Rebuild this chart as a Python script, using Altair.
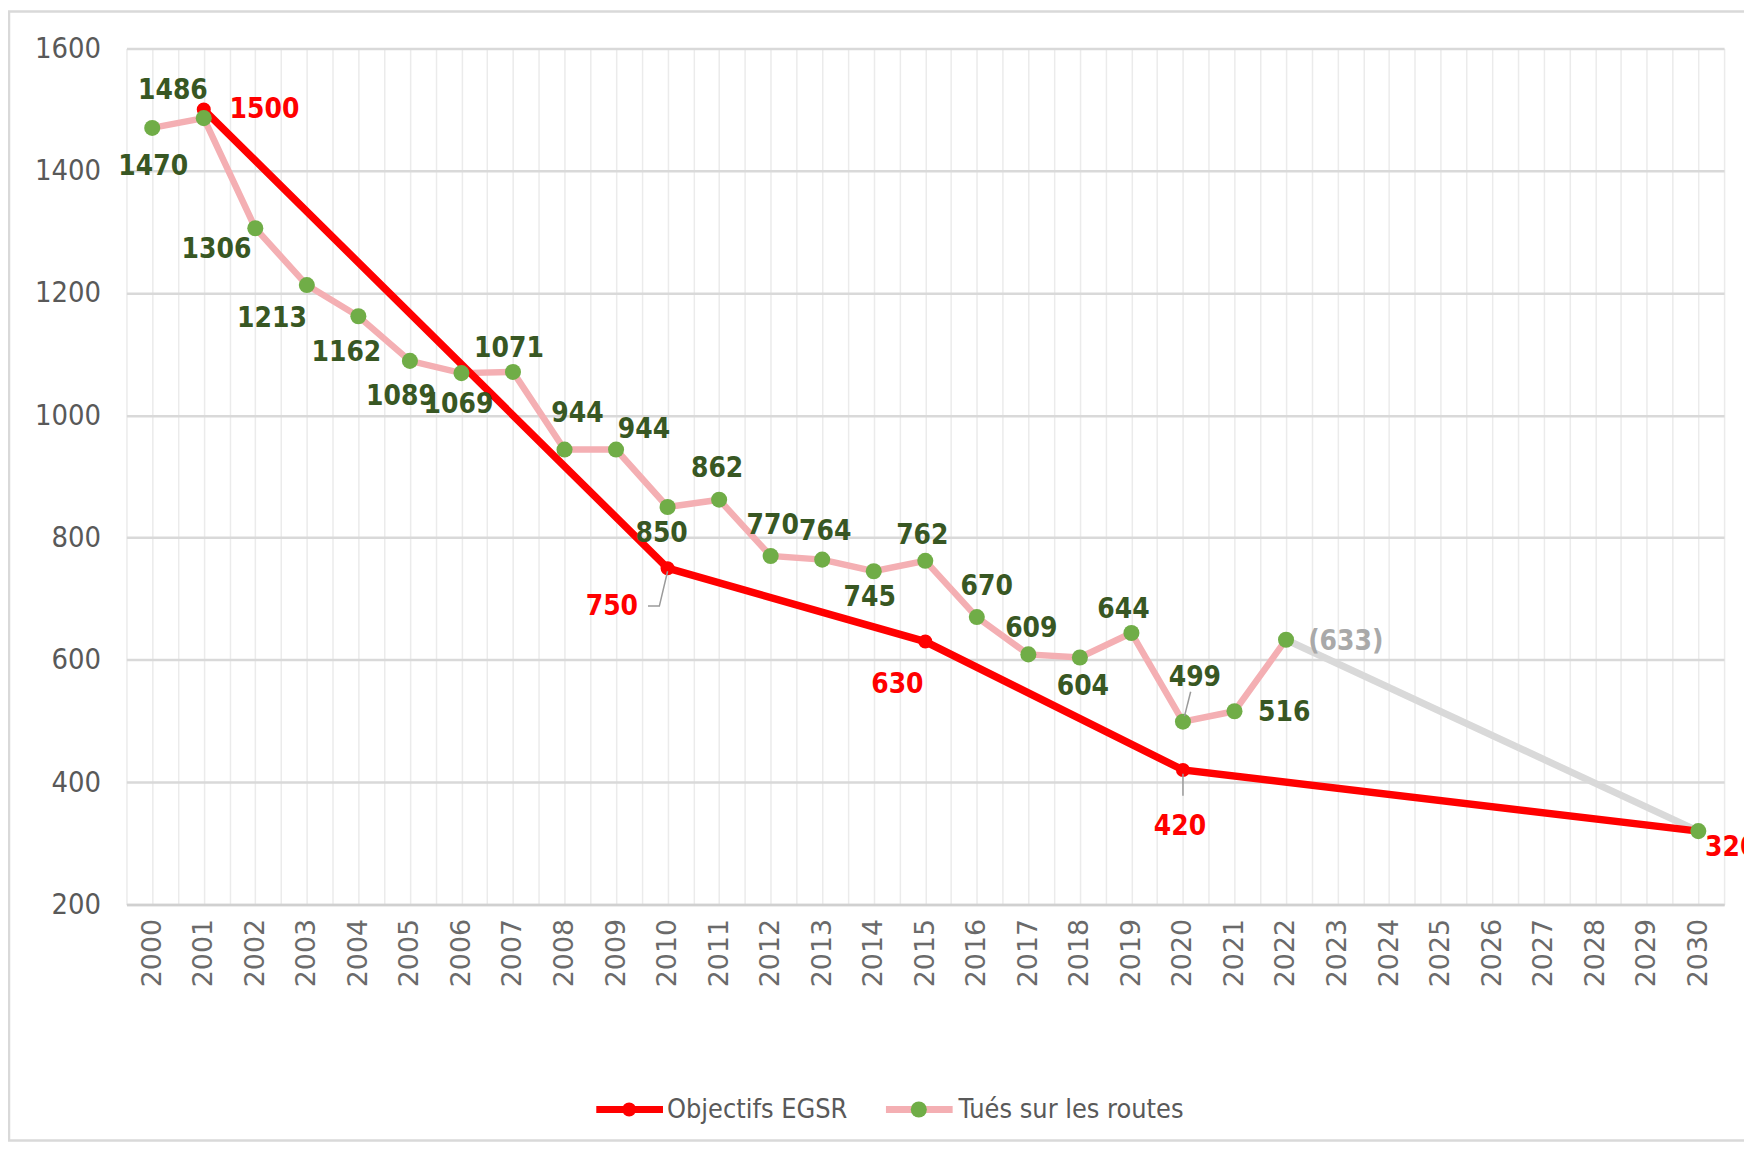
import altair as alt
import pandas as pd

# ---------------- data ----------------
years = list(range(2000, 2023))
tues = [1470, 1486, 1306, 1213, 1162, 1089, 1069, 1071, 944, 944, 850, 862,
        770, 764, 745, 762, 670, 609, 604, 644, 499, 516, 633]
obj_years = [2001, 2010, 2015, 2020, 2030]
obj_vals = [1500, 750, 630, 420, 320]
proj_years = [2022, 2030]
proj_vals = [633, 320]
target_year = 2030
target_val = 320

# label offsets in pixels (dx right, dy down)
tues_dx = [1, -31, -39, -35, -12, -9, -3, -4, 13, 28, -6, -2, 2, 3, -4, -3, 10, 3, 3, -8, 12, 50, 60]
tues_dy = [39, -27, 22, 34, 37, 36, 32, -23, -36, -20, 27, -31, -30, -28, 27, -25, -30, -25, 30, -23, -44, 2, 2]
obj_dx = [61, -56, -28, -3, 33]
obj_dy = [0, 39, 44, 57, 17]

# leader lines (data coordinates)
leader_group = ["a", "a", "a", "b", "b", "c", "c"]
leader_x = [2009.62, 2009.84, 2010.0, 2020.15, 2020.03, 2020.0, 2020.0]
leader_y = [688, 688, 745, 548, 508, 414, 378]

# ---------------- layout ----------------
W, H = 1605, 860
XMIN, XMAX = 1999.5, 2030.5
YMIN, YMAX = 200, 1600
PX_YEAR = W / (XMAX - XMIN)
PX_UNIT = H / (YMAX - YMIN)

NUM_FONT = "Liberation Sans Narrow, DejaVu Sans Condensed, sans-serif"
AX_FONT = "DejaVu Sans, sans-serif"
GREEN_TXT = "#385723"
RED = "#FF0000"
PINK = "#F4AFB3"
GREEN = "#70AD47"
GRAY_LINE = "#D9D9D9"

xs = alt.Scale(domain=[XMIN, XMAX], nice=False, zero=False)
ys = alt.Scale(domain=[YMIN, YMAX], nice=False, zero=False)

tues_df = pd.DataFrame({"year": years, "val": tues, "dx": tues_dx, "dy": tues_dy})
tues_df["txt"] = [str(v) for v in tues]
tues_df.loc[tues_df["year"] == 2022, "txt"] = "(633)"
tues_df["grp"] = ["g"] * (len(years) - 1) + ["p"]

pts_df = pd.DataFrame({"year": years + [target_year], "val": tues + [target_val]})
obj_df = pd.DataFrame({"year": obj_years, "val": obj_vals, "dx": obj_dx, "dy": obj_dy})
obj_df["txt"] = [str(v) for v in obj_vals]
proj_df = pd.DataFrame({"year": proj_years, "val": proj_vals})
lead_df = pd.DataFrame({"g": leader_group, "x": leader_x, "y": leader_y})

x_vals = [XMIN + 0.5 * i for i in range(int((XMAX - XMIN) * 2) + 1)]

x_axis = alt.Axis(
    values=x_vals,
    labelExpr="datum.value % 1 == 0 ? '' + datum.value : ''",
    labelAngle=270, labelOverlap=False,
    grid=True, gridColor="#EBEBEB", gridWidth=1.5,
    ticks=False, domainColor="#D0D0D0", domainWidth=2.5,
    labelFont=AX_FONT, labelFontSize=27, labelColor="#6A6A6A", labelPadding=14,
    title=None,
)
y_axis = alt.Axis(
    values=list(range(200, 1601, 200)), format="d",
    grid=True, gridColor="#D9D9D9", gridWidth=2.5,
    ticks=False, domain=False,
    labelFont=NUM_FONT, labelFontSize=29, labelColor="#595959", labelPadding=26,
    title=None,
)


def X(f):
    return alt.X(f, scale=xs, axis=x_axis)


def Y(f):
    return alt.Y(f, scale=ys, axis=y_axis)


gray_line = alt.Chart(proj_df).mark_line(color=GRAY_LINE, strokeWidth=7).encode(
    x=X("year:Q"), y=Y("val:Q"))
pink_line = alt.Chart(tues_df).mark_line(color=PINK, strokeWidth=6.5).encode(
    x=X("year:Q"), y=Y("val:Q"))
red_line = alt.Chart(obj_df).mark_line(color=RED, strokeWidth=7.5).encode(
    x=X("year:Q"), y=Y("val:Q"))
red_pts = alt.Chart(obj_df).mark_point(filled=True, color=RED, size=200, opacity=1).encode(
    x=X("year:Q"), y=Y("val:Q"))
green_pts = alt.Chart(pts_df).mark_point(filled=True, color=GREEN, size=260, opacity=1).encode(
    x=X("year:Q"), y=Y("val:Q"))

leaders = alt.Chart(lead_df).mark_line(color="#9A9A9A", strokeWidth=1.5).encode(
    x=X("x:Q"), y=Y("y:Q"), detail="g:N")

tues_labels = alt.Chart(tues_df).transform_calculate(
    lx=f"datum.year + datum.dx / {PX_YEAR}",
    ly=f"datum.val - datum.dy / {PX_UNIT}",
).mark_text(font=NUM_FONT, fontSize=28, fontWeight="bold", baseline="middle", align="center").encode(
    x=X("lx:Q"), y=Y("ly:Q"), text="txt:N",
    color=alt.Color("grp:N", scale=alt.Scale(domain=["g", "p"], range=[GREEN_TXT, "#A9A9A9"]), legend=None),
)
obj_labels = alt.Chart(obj_df).transform_calculate(
    lx=f"datum.year + datum.dx / {PX_YEAR}",
    ly=f"datum.val - datum.dy / {PX_UNIT}",
).mark_text(font=NUM_FONT, fontSize=28, fontWeight="bold", baseline="middle", align="center", color=RED).encode(
    x=X("lx:Q"), y=Y("ly:Q"), text="txt:N")

# ---------------- legend (drawn) ----------------
one = pd.DataFrame({"k": [0]})
LY = 1066
leg_red_rule = alt.Chart(one).mark_rule(color=RED, strokeWidth=7).encode(
    x=alt.value(472), x2=alt.value(539), y=alt.value(LY))
leg_red_pt = alt.Chart(one).mark_point(filled=True, color=RED, size=200, opacity=1).encode(
    x=alt.value(505), y=alt.value(LY))
leg_red_txt = alt.Chart(one).mark_text(align="left", baseline="middle", font=NUM_FONT, fontSize=27,
                                        color="#595959").encode(
    x=alt.value(543), y=alt.value(LY), text=alt.value("Objectifs EGSR"))
leg_pink_rule = alt.Chart(one).mark_rule(color=PINK, strokeWidth=7).encode(
    x=alt.value(763), x2=alt.value(830), y=alt.value(LY))
leg_green_pt = alt.Chart(one).mark_point(filled=True, color=GREEN, size=260, opacity=1).encode(
    x=alt.value(796), y=alt.value(LY))
leg_pink_txt = alt.Chart(one).mark_text(align="left", baseline="middle", font=NUM_FONT, fontSize=27,
                                         color="#595959").encode(
    x=alt.value(836), y=alt.value(LY), text=alt.value("Tués sur les routes"))

frame = alt.Chart(one).mark_rect(fillOpacity=0, stroke="#D9D9D9", strokeWidth=2.5).encode(
    x=alt.value(-118), x2=alt.value(1680), y=alt.value(-37), y2=alt.value(1097))

chart = alt.layer(
    gray_line, pink_line, red_line, red_pts, green_pts, leaders,
    tues_labels, obj_labels,
    frame,
    leg_red_rule, leg_red_pt, leg_red_txt, leg_pink_rule, leg_green_pt, leg_pink_txt,
).properties(
    width=W, height=H,
    autosize=alt.AutoSizeParams(type="none"),
    padding={"left": 119, "top": 38, "right": 20, "bottom": 239},
    background="white",
).configure_view(stroke=None)

chart.save("out.html", embed_options={"renderer": "svg", "actions": False})
